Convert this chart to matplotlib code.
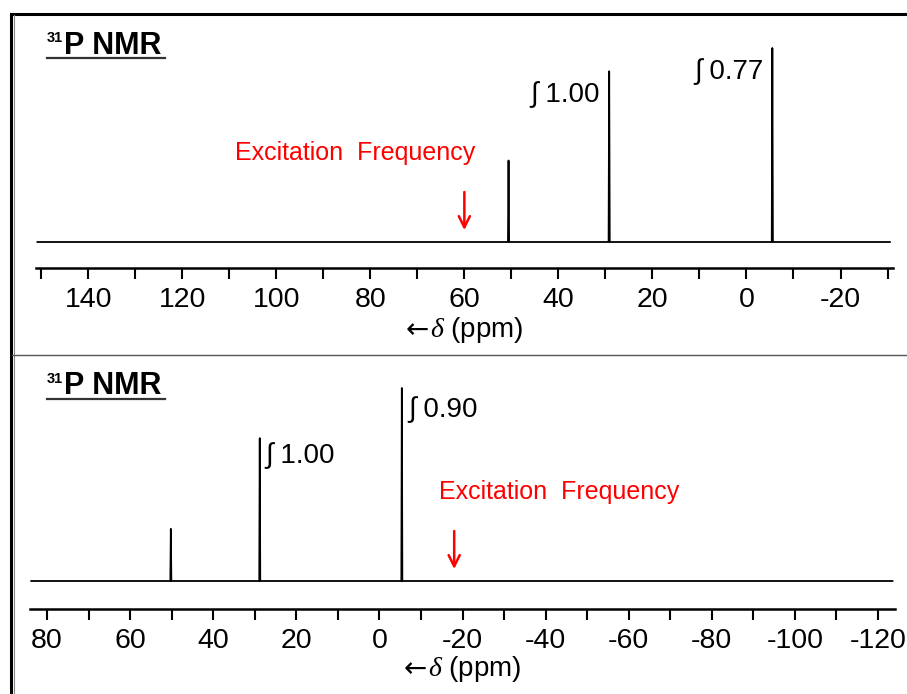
import matplotlib
matplotlib.use("Agg")
import matplotlib.pyplot as plt
from matplotlib.lines import Line2D
from matplotlib.ticker import MultipleLocator, FuncFormatter

plt.rcParams['font.family'] = ['Liberation Sans', 'DejaVu Sans']
plt.rcParams['mathtext.fontset'] = 'custom'
plt.rcParams['mathtext.rm'] = 'Liberation Sans'
plt.rcParams['mathtext.it'] = 'Liberation Serif:italic'
plt.rcParams['mathtext.bf'] = 'Liberation Sans:bold'

# top spectrum (ppm, relative intensity)
top_shifts = [50.6, 29.2, -5.5]
top_heights = [0.42, 0.88, 1.00]
top_integrals = {29.2: "1.00", -5.5: "0.77"}
top_excitation = 60
top_xlim = (151.1, -31.1)

# bottom spectrum
bot_shifts = [50.2, 28.8, -5.4]
bot_heights = [0.27, 0.74, 1.00]
bot_integrals = {28.8: "1.00", -5.4: "0.90"}
bot_excitation = -18
bot_xlim = (84.1, -124.1)

W, H = 907, 694
fig = plt.figure(figsize=(W / 100, H / 100), dpi=100)


def px_rect(x0, x1, ytop, ybot):
    return [x0 / W, (H - ybot) / H, (x1 - x0) / W, (ybot - ytop) / H]


def spectrum(ax, shifts, heights, xlim):
    xs = [xlim[0] - 0.3]
    ys = [0]
    for p, h in sorted(zip(shifts, heights), reverse=True):
        xs += [p + 0.12, p, p - 0.12]
        ys += [0, h, 0]
    xs.append(xlim[1] + 0.6)
    ys.append(0)
    ax.plot(xs, ys, color='black', lw=1.3)


def style_axis(ax, xlim, base_px, tallest_px, height_px):
    ax.set_xlim(*xlim)
    scale = tallest_px
    ax.set_ylim(-base_px / scale, (height_px - base_px) / scale)
    for s in ['top', 'left', 'right']:
        ax.spines[s].set_visible(False)
    ax.spines['bottom'].set_linewidth(1.8)
    ax.set_yticks([])
    ax.xaxis.set_major_locator(MultipleLocator(10))
    ax.xaxis.set_major_formatter(FuncFormatter(
        lambda v, pos: f"{int(round(v))}" if round(v) % 20 == 0 else ""))
    ax.tick_params(axis='x', direction='out', length=8, width=1.5,
                   labelsize=20.5, pad=6)
    ax.patch.set_alpha(0)


def integral_labels(ax, shifts, heights, labels, dx, dy, ha):
    for (p, h) in zip(shifts, heights):
        if p in labels:
            ax.annotate("\u222b " + labels[p], xy=(p, h), xycoords='data',
                        xytext=(dx, dy[p]), textcoords='offset pixels',
                        ha=ha, va='center', fontsize=20)


def excitation(ax, f, dx):
    ax.annotate('', xy=(f, 0), xycoords='data', xytext=(0, 50),
                textcoords='offset pixels',
                arrowprops=dict(arrowstyle='->', color='red', lw=1.8,
                                shrinkA=0, shrinkB=8.6, mutation_scale=20))
    ax.annotate('Excitation  Frequency', xy=(f, 0), xycoords='data',
                xytext=(dx, 89), textcoords='offset pixels',
                ha='center', va='center', fontsize=18, color='red')


def ppm_label(x_left, baseline):
    t = fig.text(x_left / W, (H - baseline) / H, r'$\delta$ (ppm)',
                 fontsize=20, ha='left', va='baseline')
    fig.text((x_left - 1) / W, (H - baseline + 7) / H, '\u2190',
             family=['DejaVu Sans'], fontsize=20, ha='right', va='center')
    return t


# top panel
ax1 = fig.add_axes(px_rect(36, 892.7, 30, 268))
spectrum(ax1, top_shifts, top_heights, top_xlim)
style_axis(ax1, top_xlim, 26, 194, 238)
integral_labels(ax1, top_shifts, top_heights, top_integrals, -9,
                {29.2: -23, -5.5: -24}, 'right')
excitation(ax1, top_excitation, -109)
ppm_label(430, 337)

# bottom panel
ax2 = fig.add_axes(px_rect(30, 895, 370, 609))
spectrum(ax2, bot_shifts, bot_heights, bot_xlim)
style_axis(ax2, bot_xlim, 28, 193, 239)
integral_labels(ax2, bot_shifts, bot_heights, bot_integrals, 6,
                {28.8: -17, -5.4: -22}, 'left')
excitation(ax2, bot_excitation, 105)
ppm_label(428, 676.5)

# panel titles with underline
for base in (53.5, 394):
    fig.text(47 / W, (H - base + 11) / H, '31', fontsize=10.5,
             fontweight='bold', va='baseline', ha='left')
    fig.text(64 / W, (H - base) / H, 'P NMR', fontsize=22,
             fontweight='bold', va='baseline', ha='left')
    fig.add_artist(Line2D([47 / W, 165 / W],
                          [(H - base - 4.5) / H] * 2,
                          transform=fig.transFigure, color='#333333', lw=1.6))

# frame lines
fig.add_artist(Line2D([11 / W, 1], [(H - 14) / H] * 2,
                      transform=fig.transFigure, color='black', lw=2.2))
fig.add_artist(Line2D([11 / W] * 2, [0, (H - 14) / H],
                      transform=fig.transFigure, color='black', lw=2.2))
fig.add_artist(Line2D([13.5 / W] * 2, [0, (H - 15) / H],
                      transform=fig.transFigure, color='#888888', lw=0.8))
fig.add_artist(Line2D([12 / W, 1], [(H - 355) / H] * 2,
                      transform=fig.transFigure, color='#555555', lw=1.0))

fig.savefig('out.png', dpi=100)
